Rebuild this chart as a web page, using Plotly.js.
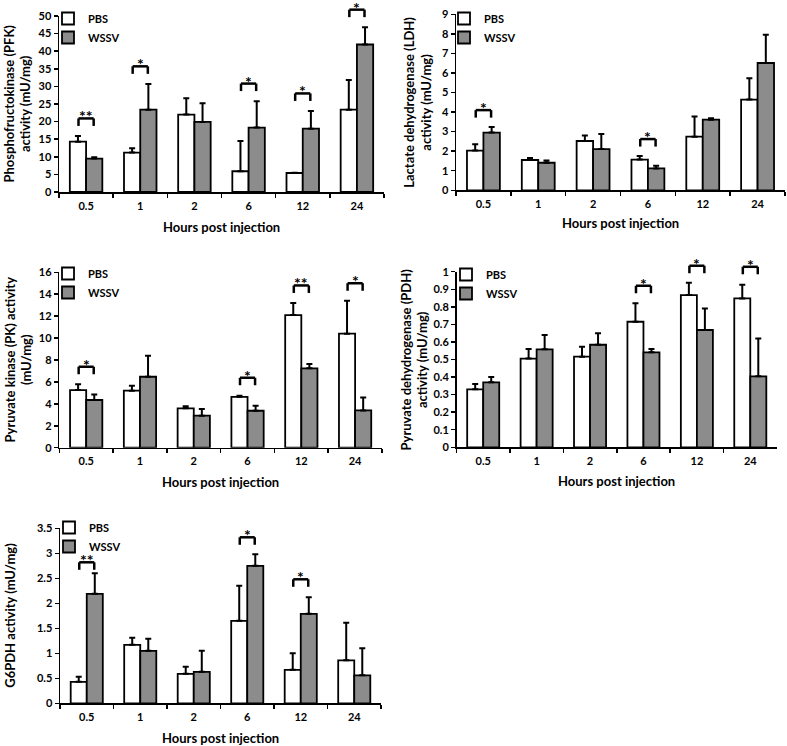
<!DOCTYPE html>
<html><head><meta charset="utf-8">
<script src="https://cdn.plot.ly/plotly-3.0.1.min.js"></script>
<style>html,body{margin:0;padding:0;background:#fff}</style>
</head><body><div id="chart" style="width:787px;height:746px"></div>
<script>
// ---------- data ----------
const hours = ['0.5', '1', '2', '6', '12', '24'];
const seriesNames = ['PBS', 'WSSV'];

const pfkPBS      = [14.3, 11.2, 22.0, 5.9, 5.4, 23.4];
const pfkPBSErr   = [1.6, 1.2, 4.6, 8.6, 0.1, 8.4];
const pfkWSSV     = [9.5, 23.4, 19.9, 18.3, 18.0, 41.9];
const pfkWSSVErr  = [0.35, 7.3, 5.3, 7.5, 5.0, 4.9];
const pfkSig      = ['**', '*', '', '*', '*', '*'];
const pfkSigTop   = [20.9, 35.7, null, 30.8, 28.0, 51.8];

const ldhPBS      = [2.03, 1.55, 2.52, 1.57, 2.74, 4.64];
const ldhPBSErr   = [0.32, 0.10, 0.28, 0.19, 1.04, 1.09];
const ldhWSSV     = [2.95, 1.41, 2.11, 1.12, 3.61, 6.51];
const ldhWSSVErr  = [0.29, 0.11, 0.77, 0.14, 0.07, 1.45];
const ldhSig      = ['*', '', '', '*', '', ''];
const ldhSigTop   = [4.1, null, null, 2.62, null, null];

const pkPBS       = [5.26, 5.2, 3.59, 4.64, 12.1, 10.4];
const pkPBSErr    = [0.52, 0.45, 0.18, 0.10, 1.1, 3.0];
const pkWSSV      = [4.35, 6.47, 2.92, 3.37, 7.24, 3.4];
const pkWSSVErr   = [0.51, 1.92, 0.61, 0.46, 0.39, 1.19];
const pkSig       = ['*', '', '', '*', '**', '*'];
const pkSigTop    = [7.38, null, null, 6.38, 14.8, 15.0];

const pdhPBS      = [0.33, 0.505, 0.516, 0.715, 0.867, 0.848];
const pdhPBSErr   = [0.03, 0.055, 0.057, 0.105, 0.07, 0.078];
const pdhWSSV     = [0.37, 0.558, 0.584, 0.541, 0.668, 0.404];
const pdhWSSVErr  = [0.03, 0.082, 0.066, 0.019, 0.122, 0.216];
const pdhSig      = ['', '', '', '*', '*', '*'];
const pdhSigTop   = [null, null, null, 0.92, 1.034, 1.028];

const g6pdhPBS     = [0.43, 1.17, 0.59, 1.65, 0.67, 0.86];
const g6pdhPBSErr  = [0.10, 0.14, 0.14, 0.70, 0.33, 0.75];
const g6pdhWSSV    = [2.19, 1.05, 0.63, 2.75, 1.79, 0.56];
const g6pdhWSSVErr = [0.41, 0.24, 0.42, 0.23, 0.33, 0.54];
const g6pdhSig     = ['**', '', '', '*', '*', ''];
const g6pdhSigTop  = [2.82, null, null, 3.32, 2.48, null];

// ---------- layout helpers ----------
const W = 787, H = 746;
const FONT = 'Lato, "Open Sans", "DejaVu Sans", sans-serif';
const GRAY = '#8c8c8c';

const panels = [
  {pbs: pfkPBS, pbsErr: pfkPBSErr, wssv: pfkWSSV, wssvErr: pfkWSSVErr, sig: pfkSig, sigTop: pfkSigTop,
   ymax: 50, dtick: 5, box: {l: 59, r: 384, t: 16, b: 192},
   ytitle: 'Phosphofructokinase (PFK)<br>activity (mU/mg)', ytx: 17.5, xty: 227, leg: {x: 48, y: 4}},
  {pbs: ldhPBS, pbsErr: ldhPBSErr, wssv: ldhWSSV, wssvErr: ldhWSSVErr, sig: ldhSig, sigTop: ldhSigTop,
   ymax: 9, dtick: 1, box: {l: 456, r: 785, t: 14.3, b: 190.3},
   ytitle: 'Lactate dehydrogenase (LDH)<br>activity (mU/mg)', ytx: 417.5, xty: 223, leg: {x: 444, y: 4}},
  {pbs: pkPBS, pbsErr: pkPBSErr, wssv: pkWSSV, wssvErr: pkWSSVErr, sig: pkSig, sigTop: pkSigTop,
   ymax: 16, dtick: 2, box: {l: 59.3, r: 382, t: 272.3, b: 447.7},
   ytitle: 'Pyruvate kinase (PK) activity<br>(mU/mg)', ytx: 17.5, xty: 482, leg: {x: 48, y: 259}},
  {pbs: pdhPBS, pbsErr: pdhPBSErr, wssv: pdhWSSV, wssvErr: pdhWSSVErr, sig: pdhSig, sigTop: pdhSigTop,
   ymax: 1, dtick: 0.1, box: {l: 456.5, r: 777, t: 271.7, b: 447.3},
   ytitle: 'Pyruvate dehydrogenase (PDH)<br>activity (mU/mg)', ytx: 414, xty: 481, leg: {x: 446, y: 260}},
  {pbs: g6pdhPBS, pbsErr: g6pdhPBSErr, wssv: g6pdhWSSV, wssvErr: g6pdhWSSVErr, sig: g6pdhSig, sigTop: g6pdhSigTop,
   ymax: 3.5, dtick: 0.5, box: {l: 60, r: 381, t: 528.3, b: 703.3},
   ytitle: 'G6PDH activity (mU/mg)', ytx: 10, xty: 738, leg: {x: 49, y: 513}}
];

const traces = [];
const layout = {
  width: W, height: H,
  margin: {l: 0, r: 0, t: 0, b: 0, pad: 0},
  paper_bgcolor: '#fff', plot_bgcolor: '#fff',
  barmode: 'group', bargap: 0.4, bargroupgap: 0,
  font: {family: FONT, color: '#000', size: 11, weight: 'bold'},
  annotations: [], shapes: []
};

const zeros = hours.map(() => 0);

panels.forEach((p, i) => {
  const n = i === 0 ? '' : String(i + 1);
  const xa = 'x' + n, ya = 'y' + n, lg = 'legend' + n;
  const xd = [p.box.l / W, p.box.r / W];
  const yd = [1 - p.box.b / H, 1 - p.box.t / H];

  const common = {type: 'bar', x: hours, xaxis: xa, yaxis: ya, legend: lg, hoverinfo: 'y'};
  traces.push(Object.assign({}, common, {
    name: seriesNames[0], y: p.pbs,
    marker: {color: '#ffffff', line: {color: '#000', width: 1.8}},
    error_y: {type: 'data', symmetric: false, array: p.pbsErr, arrayminus: zeros, color: '#000', thickness: 2, width: 3}
  }));
  traces.push(Object.assign({}, common, {
    name: seriesNames[1], y: p.wssv,
    marker: {color: GRAY, line: {color: '#000', width: 1.8}},
    error_y: {type: 'data', symmetric: false, array: p.wssvErr, arrayminus: zeros, color: '#000', thickness: 2, width: 3}
  }));

  layout['xaxis' + n] = {
    domain: xd, anchor: ya, type: 'category', range: [-0.5, hours.length - 0.5],
    showline: true, linecolor: '#000', linewidth: 1.5, mirror: false,
    ticks: 'outside', tickson: 'boundaries', ticklen: 4, tickwidth: 1.5, tickcolor: '#000',
    showgrid: false, zeroline: false, fixedrange: true, ticklabelstandoff: 3,
    tickfont: {family: FONT, size: 11, weight: 'bold', color: '#000'}
  };
  layout['yaxis' + n] = {
    domain: yd, anchor: xa, range: [0, p.ymax], dtick: p.dtick, tick0: 0,
    showline: true, linecolor: '#000', linewidth: 1.5,
    ticks: 'outside', ticklen: 4, tickwidth: 1.5, tickcolor: '#000',
    showgrid: false, zeroline: false, fixedrange: true,
    tickfont: {family: FONT, size: 11, weight: 'bold', color: '#000'}
  };
  layout[lg] = {
    x: p.leg.x / W, y: 1 - p.leg.y / H, xanchor: 'left', yanchor: 'top',
    bgcolor: 'rgba(0,0,0,0)', borderwidth: 0, itemclick: false, itemdoubleclick: false,
    font: {family: FONT, size: 11, weight: 'bold', color: '#000'}, tracegroupgap: 0
  };

  // axis titles
  layout.annotations.push({
    xref: 'paper', yref: 'paper', x: (p.box.l + p.box.r) / 2 / W, y: 1 - p.xty / H,
    xanchor: 'center', yanchor: 'middle', showarrow: false,
    text: 'Hours post injection', font: {family: FONT, size: 13, weight: 'bold', color: '#000'}
  });
  layout.annotations.push({
    xref: 'paper', yref: 'paper', x: p.ytx / W, y: 1 - (p.box.t + p.box.b) / 2 / H,
    xanchor: 'center', yanchor: 'middle', showarrow: false, textangle: -90,
    text: p.ytitle, font: {family: FONT, size: 13, weight: 'bold', color: '#000'}
  });

  // significance brackets and stars
  const yPaper = v => yd[0] + (v / p.ymax) * (yd[1] - yd[0]);
  p.sig.forEach((s, j) => {
    if (!s) return;
    const top = yPaper(p.sigTop[j]);
    const bot = top - 7.5 / H;
    const xl = j - 0.14, xr = j + 0.14;
    const ln = {type: 'line', xref: xa, yref: 'paper', line: {color: '#000', width: 2.5}, layer: 'above'};
    layout.shapes.push(Object.assign({}, ln, {x0: xl, x1: xl, y0: bot, y1: top}));
    layout.shapes.push(Object.assign({}, ln, {x0: xl, x1: xr, y0: top, y1: top}));
    layout.shapes.push(Object.assign({}, ln, {x0: xr, x1: xr, y0: bot, y1: top}));
    layout.annotations.push({
      xref: xa, yref: 'paper', x: j, y: top, xanchor: 'center', yanchor: 'bottom', yshift: -9,
      showarrow: false, text: s, font: {family: FONT, size: 16, weight: 'bold', color: '#000'}
    });
  });
});

Plotly.newPlot('chart', traces, layout, {displayModeBar: false, staticPlot: true});
</script>
</body></html>
